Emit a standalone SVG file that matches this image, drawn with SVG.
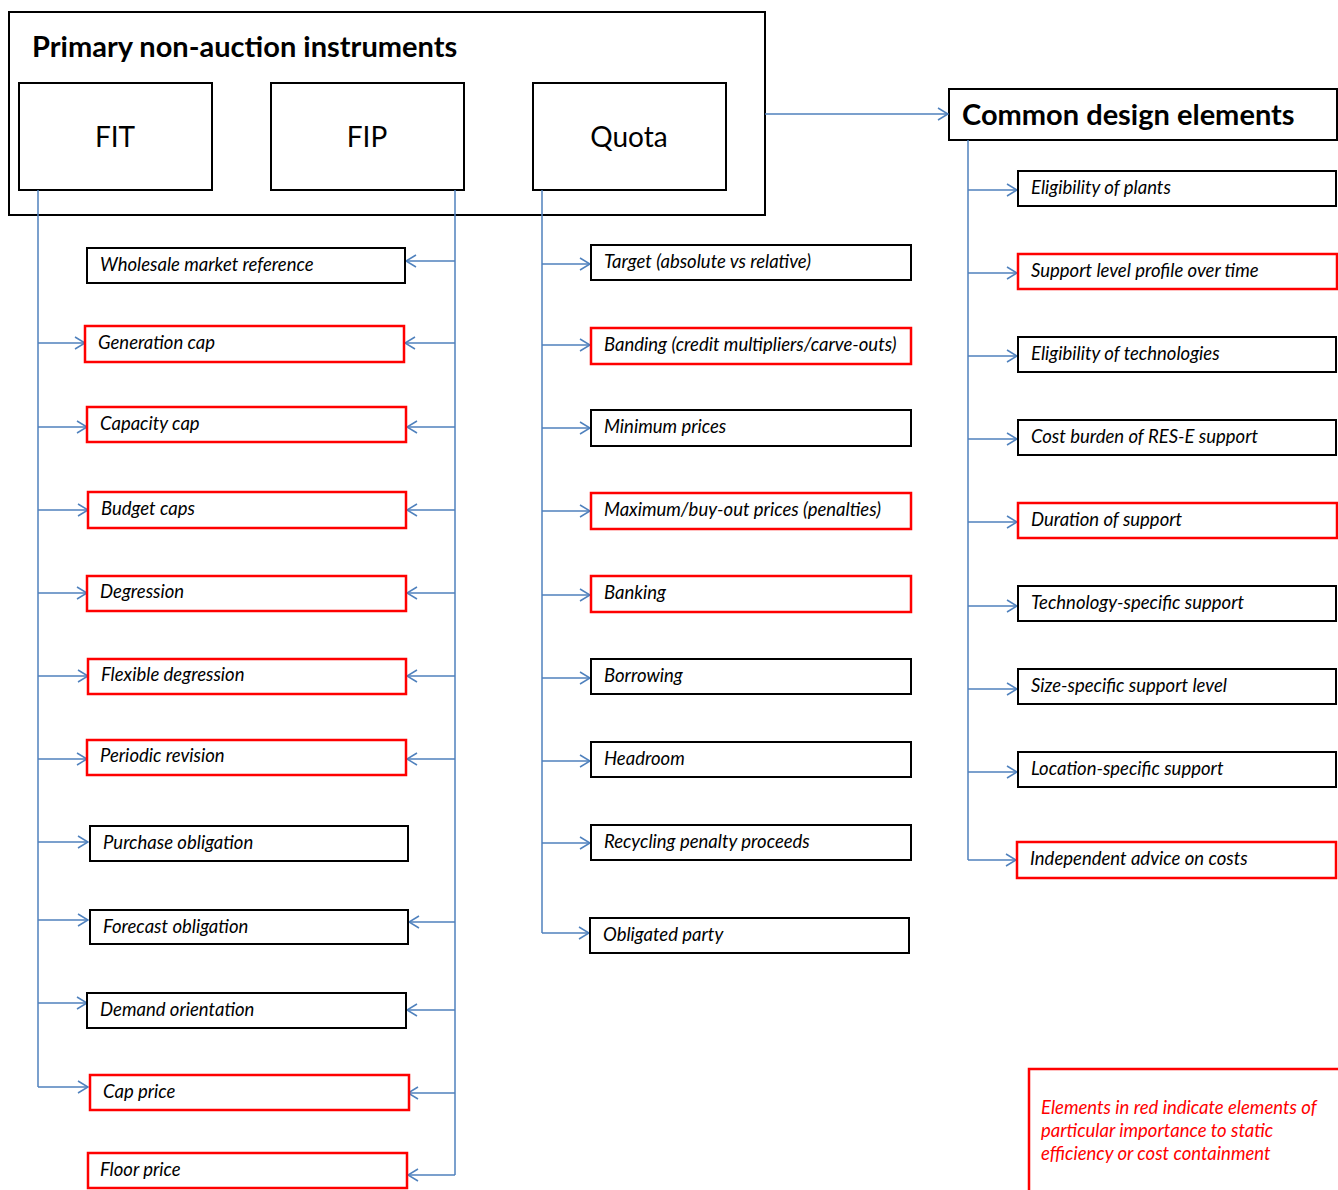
<svg xmlns="http://www.w3.org/2000/svg" width="1338" height="1190" viewBox="0 0 1338 1190">
<style>
.bx{fill:#fff;stroke:#000;stroke-width:2}
.rd{fill:#fff;stroke:#ff0000;stroke-width:2.5}
.t{font-family:Lato,"Open Sans",sans-serif;font-style:italic;font-size:18.5px;fill:#000}
.big{font-family:Lato,"Open Sans",sans-serif;font-size:28px;fill:#000;text-anchor:middle}
.hd{font-family:Lato,"Open Sans",sans-serif;font-weight:bold;font-size:29px;fill:#000}
.c{fill:none;stroke:#4f81bd;stroke-width:1.5}
.note{font-family:Lato,"Open Sans",sans-serif;font-style:italic;font-size:18.5px;fill:#ff0000}
</style>
<defs>
<marker id="ah" markerWidth="12" markerHeight="14" refX="11" refY="7" orient="auto" markerUnits="userSpaceOnUse">
<path d="M1,1 L11,7 L1,13" fill="none" stroke="#4f81bd" stroke-width="1.5"/>
</marker>
</defs>
<rect width="1338" height="1190" fill="#fff"/>

<g id="primary">
<rect class="bx" x="9" y="12" width="756" height="203"/>
<text class="hd" x="32" y="57">Primary non-auction instruments</text>
</g>
<g id="fit"><rect class="bx" x="19" y="83" width="193" height="107"/><text class="big" x="115" y="147">FIT</text></g>
<g id="fip"><rect class="bx" x="271" y="83" width="193" height="107"/><text class="big" x="367" y="147">FIP</text></g>
<g id="quota"><rect class="bx" x="533" y="83" width="193" height="107"/><text class="big" x="629" y="147">Quota</text></g>
<g id="common"><rect class="bx" x="949" y="89" width="388" height="51"/><text class="hd" x="962" y="125">Common design elements</text></g>

<g id="connectors">
<path class="c" d="M765,114 H948" marker-end="url(#ah)"/>
<path class="c" d="M38,190 V1087"/>
<path class="c" d="M455,190 V1175"/>
<path class="c" d="M542,190 V933"/>
<path class="c" d="M968,140 V860"/>
<!-- FIT -->
<path class="c" d="M38,343 H85" marker-end="url(#ah)"/>
<path class="c" d="M38,427 H87" marker-end="url(#ah)"/>
<path class="c" d="M38,510 H88" marker-end="url(#ah)"/>
<path class="c" d="M38,593 H87" marker-end="url(#ah)"/>
<path class="c" d="M38,676 H88" marker-end="url(#ah)"/>
<path class="c" d="M38,759 H87" marker-end="url(#ah)"/>
<path class="c" d="M38,842 H88" marker-end="url(#ah)"/>
<path class="c" d="M38,920 H88" marker-end="url(#ah)"/>
<path class="c" d="M38,1003 H87" marker-end="url(#ah)"/>
<path class="c" d="M38,1087 H88" marker-end="url(#ah)"/>
<!-- FIP -->
<path class="c" d="M455,261 H406" marker-end="url(#ah)"/>
<path class="c" d="M455,343 H405" marker-end="url(#ah)"/>
<path class="c" d="M455,427 H407" marker-end="url(#ah)"/>
<path class="c" d="M455,510 H407" marker-end="url(#ah)"/>
<path class="c" d="M455,593 H407" marker-end="url(#ah)"/>
<path class="c" d="M455,676 H407" marker-end="url(#ah)"/>
<path class="c" d="M455,759 H407" marker-end="url(#ah)"/>
<path class="c" d="M455,922 H409" marker-end="url(#ah)"/>
<path class="c" d="M455,1010 H407" marker-end="url(#ah)"/>
<path class="c" d="M455,1093 H408" marker-end="url(#ah)"/>
<path class="c" d="M455,1175 H408" marker-end="url(#ah)"/>
<!-- Quota -->
<path class="c" d="M542,264 H590" marker-end="url(#ah)"/>
<path class="c" d="M542,345 H590" marker-end="url(#ah)"/>
<path class="c" d="M542,428 H590" marker-end="url(#ah)"/>
<path class="c" d="M542,511 H590" marker-end="url(#ah)"/>
<path class="c" d="M542,595 H590" marker-end="url(#ah)"/>
<path class="c" d="M542,678 H590" marker-end="url(#ah)"/>
<path class="c" d="M542,761 H590" marker-end="url(#ah)"/>
<path class="c" d="M542,843 H590" marker-end="url(#ah)"/>
<path class="c" d="M542,933 H589" marker-end="url(#ah)"/>
<!-- Common -->
<path class="c" d="M968,190 H1017" marker-end="url(#ah)"/>
<path class="c" d="M968,273 H1017" marker-end="url(#ah)"/>
<path class="c" d="M968,356 H1017" marker-end="url(#ah)"/>
<path class="c" d="M968,439 H1017" marker-end="url(#ah)"/>
<path class="c" d="M968,522 H1017" marker-end="url(#ah)"/>
<path class="c" d="M968,606 H1017" marker-end="url(#ah)"/>
<path class="c" d="M968,689 H1017" marker-end="url(#ah)"/>
<path class="c" d="M968,772 H1017" marker-end="url(#ah)"/>
<path class="c" d="M968,860 H1016" marker-end="url(#ah)"/>
</g>

<!-- left column -->
<g id="n-wholesale"><rect class="bx" x="87" y="248" width="318" height="35"/><text class="t" x="100" y="271">Wholesale market reference</text></g>
<g id="n-gencap"><rect class="rd" x="85" y="326" width="319" height="36"/><text class="t" x="98" y="349">Generation cap</text></g>
<g id="n-capcap"><rect class="rd" x="87" y="407" width="319" height="35"/><text class="t" x="100" y="430">Capacity cap</text></g>
<g id="n-budget"><rect class="rd" x="88" y="492" width="318" height="36"/><text class="t" x="101" y="515">Budget caps</text></g>
<g id="n-degr"><rect class="rd" x="87" y="576" width="319" height="35"/><text class="t" x="100" y="598">Degression</text></g>
<g id="n-flexdegr"><rect class="rd" x="88" y="659" width="318" height="35"/><text class="t" x="101" y="681">Flexible degression</text></g>
<g id="n-periodic"><rect class="rd" x="87" y="740" width="319" height="35"/><text class="t" x="100" y="762">Periodic revision</text></g>
<g id="n-purchase"><rect class="bx" x="90" y="826" width="318" height="35"/><text class="t" x="103" y="849">Purchase obligation</text></g>
<g id="n-forecast"><rect class="bx" x="90" y="910" width="318" height="34"/><text class="t" x="103" y="933">Forecast obligation</text></g>
<g id="n-demand"><rect class="bx" x="87" y="993" width="319" height="35"/><text class="t" x="100" y="1016">Demand orientation</text></g>
<g id="n-capprice"><rect class="rd" x="90" y="1075" width="319" height="35"/><text class="t" x="103" y="1098">Cap price</text></g>
<g id="n-floor"><rect class="rd" x="88" y="1153" width="319" height="35"/><text class="t" x="100" y="1176">Floor price</text></g>

<!-- middle column -->
<g id="q-target"><rect class="bx" x="591" y="245" width="320" height="35"/><text class="t" x="604" y="268">Target (absolute vs relative)</text></g>
<g id="q-banding"><rect class="rd" x="591" y="328" width="320" height="36"/><text class="t" x="604" y="351">Banding (credit multipliers/carve-outs)</text></g>
<g id="q-minprice"><rect class="bx" x="591" y="410" width="320" height="36"/><text class="t" x="604" y="433">Minimum prices</text></g>
<g id="q-maxprice"><rect class="rd" x="591" y="493" width="320" height="36"/><text class="t" x="604" y="516">Maximum/buy-out prices (penalties)</text></g>
<g id="q-banking"><rect class="rd" x="591" y="576" width="320" height="36"/><text class="t" x="604" y="599">Banking</text></g>
<g id="q-borrowing"><rect class="bx" x="591" y="659" width="320" height="35"/><text class="t" x="604" y="682">Borrowing</text></g>
<g id="q-headroom"><rect class="bx" x="591" y="742" width="320" height="35"/><text class="t" x="604" y="765">Headroom</text></g>
<g id="q-recycling"><rect class="bx" x="591" y="825" width="320" height="35"/><text class="t" x="604" y="848">Recycling penalty proceeds</text></g>
<g id="q-obligated"><rect class="bx" x="590" y="918" width="319" height="35"/><text class="t" x="603" y="941">Obligated party</text></g>

<!-- right column -->
<g id="c-plants"><rect class="bx" x="1018" y="171" width="318" height="35"/><text class="t" x="1031" y="194">Eligibility of plants</text></g>
<g id="c-profile"><rect class="rd" x="1018" y="254" width="319" height="35"/><text class="t" x="1031" y="277">Support level profile over time</text></g>
<g id="c-tech"><rect class="bx" x="1018" y="337" width="318" height="35"/><text class="t" x="1031" y="360">Eligibility of technologies</text></g>
<g id="c-cost"><rect class="bx" x="1018" y="420" width="318" height="35"/><text class="t" x="1031" y="443">Cost burden of RES-E support</text></g>
<g id="c-duration"><rect class="rd" x="1018" y="503" width="319" height="35"/><text class="t" x="1031" y="526">Duration of support</text></g>
<g id="c-techspec"><rect class="bx" x="1018" y="586" width="318" height="35"/><text class="t" x="1031" y="609">Technology-specific support</text></g>
<g id="c-size"><rect class="bx" x="1018" y="669" width="318" height="35"/><text class="t" x="1031" y="692">Size-specific support level</text></g>
<g id="c-location"><rect class="bx" x="1018" y="752" width="318" height="35"/><text class="t" x="1031" y="775">Location-specific support</text></g>
<g id="c-advice"><rect class="rd" x="1017" y="842" width="319" height="36"/><text class="t" x="1030" y="865">Independent advice on costs</text></g>

<g id="note">
<path d="M1029,1190 V1069 H1338" fill="none" stroke="#ff0000" stroke-width="2.5"/>
<text class="note" x="1041" y="1114">Elements in red indicate elements of</text>
<text class="note" x="1041" y="1137">particular importance to static</text>
<text class="note" x="1041" y="1160">efficiency or cost containment</text>
</g>
</svg>
